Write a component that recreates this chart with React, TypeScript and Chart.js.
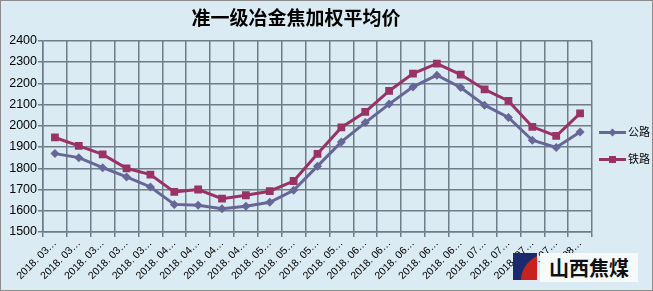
import React, { useEffect, useRef } from 'react';
import { Chart, registerables } from 'chart.js';

Chart.register(...registerables);

const categories = [
  '2018. 03…', '2018. 03…', '2018. 03…', '2018. 03…', '2018. 03…',
  '2018. 04…', '2018. 04…', '2018. 04…', '2018. 04…',
  '2018. 05…', '2018. 05…', '2018. 05…', '2018. 05…',
  '2018. 06…', '2018. 06…', '2018. 06…', '2018. 06…', '2018. 06…',
  '2018. 07…', '2018. 07…', '2018. 07…', '2018. 07…',
  '2018. 08…',
];

const roadValues = [
  1869, 1850, 1803, 1759, 1712, 1630, 1626, 1610, 1621, 1640, 1696, 1810,
  1924, 2015, 2102, 2183, 2238, 2180, 2097, 2039, 1932, 1898, 1971,
];

const railValues = [
  1945, 1905, 1865, 1800, 1770, 1689, 1700, 1657, 1673, 1692, 1740, 1868,
  1992, 2065, 2164, 2246, 2293, 2241, 2171, 2117, 1995, 1952, 2058,
];

const seriesNames = ['公路', '铁路'];
const yMin = 1500;
const yMax = 2400;
const yStep = 100;
const titleText = '准一级冶金焦加权平均价';

const BG = '#dbebf3';
const BLUE = '#666699';
const RED = '#993366';
const GRID = '#6f7d8a';
const FONT = '"Liberation Sans", "Noto Sans CJK SC", sans-serif';

const bgPlugin = {
  id: 'bgPlugin',
  beforeDraw(chart: any) {
    const { ctx, width, height } = chart;
    ctx.save();
    ctx.fillStyle = BG;
    ctx.fillRect(0, 0, width, height);
    ctx.restore();
  },
  afterDraw(chart: any) {
    const { ctx, width, height } = chart;
    ctx.save();
    ctx.strokeStyle = '#8c8c8c';
    ctx.lineWidth = 1;
    ctx.strokeRect(0.5, 0.5, width - 1, height - 1);
    const items = [
      { name: seriesNames[0], color: BLUE, style: 'diamond', y: 132.5 },
      { name: seriesNames[1], color: RED, style: 'square', y: 159.5 },
    ];
    items.forEach((it) => {
      ctx.strokeStyle = it.color;
      ctx.lineWidth = 3;
      ctx.beginPath();
      ctx.moveTo(599, it.y);
      ctx.lineTo(626, it.y);
      ctx.stroke();
      ctx.fillStyle = it.color;
      const cx = 612.5;
      if (it.style === 'diamond') {
        ctx.beginPath();
        ctx.moveTo(cx, it.y - 4);
        ctx.lineTo(cx + 4, it.y);
        ctx.lineTo(cx, it.y + 4);
        ctx.lineTo(cx - 4, it.y);
        ctx.closePath();
        ctx.fill();
      } else {
        ctx.fillRect(cx - 3.5, it.y - 3.5, 7, 7);
      }
      ctx.fillStyle = '#000';
      ctx.font = '11px ' + FONT;
      ctx.textBaseline = 'middle';
      ctx.textAlign = 'left';
      ctx.fillText(it.name, 628, it.y);
    });
    ctx.restore();
  },
};

export default function App() {
  const canvasRef = useRef<HTMLCanvasElement | null>(null);

  useEffect(() => {
    document.body.style.margin = '0';
    const canvas = canvasRef.current;
    if (!canvas) return;
    const chart = new Chart(canvas, {
      type: 'line',
      data: {
        labels: categories,
        datasets: [
          {
            label: seriesNames[0],
            data: roadValues,
            borderColor: BLUE,
            backgroundColor: BLUE,
            borderWidth: 3,
            pointStyle: 'rectRot',
            pointRadius: 4.5,
            pointHoverRadius: 4.5,
            pointBorderWidth: 0,
            tension: 0,
          },
          {
            label: seriesNames[1],
            data: railValues,
            borderColor: RED,
            backgroundColor: RED,
            borderWidth: 3,
            pointStyle: 'rect',
            pointRadius: 5.5,
            pointHoverRadius: 5.5,
            pointBorderWidth: 0,
            tension: 0,
          },
        ],
      },
      options: {
        animation: false,
        responsive: false,
        maintainAspectRatio: false,
        devicePixelRatio: 1,
        layout: { padding: { left: 0, right: 61, top: 0, bottom: 0 } },
        plugins: {
          legend: { display: false },
          tooltip: { enabled: false },
          title: {
            display: true,
            text: titleText,
            color: '#000',
            font: { family: '"Noto Sans CJK SC", sans-serif', size: 19, weight: 'bold', lineHeight: 1.2 },
            padding: { top: 6, bottom: 12 },
          },
        },
        scales: {
          x: {
            offset: true,
            grid: {
              offset: true,
              color: GRID,
              lineWidth: 1.5,
              drawTicks: true,
              tickLength: 5,
            },
            border: { color: GRID, width: 1.5 },
            ticks: {
              autoSkip: false,
              minRotation: 45,
              maxRotation: 45,
              color: '#000',
              padding: 0,
              font: { family: FONT, size: 10.5 },
            },
            afterFit(scale: any) {
              scale.height = 59;
            },
          },
          y: {
            min: yMin,
            max: yMax,
            grid: {
              color: GRID,
              lineWidth: 1.5,
              drawTicks: true,
              tickLength: 5,
            },
            border: { color: GRID, width: 1.5 },
            ticks: {
              stepSize: yStep,
              color: '#000',
              padding: 1,
              font: { family: FONT, size: 12.5 },
              callback: (v: any) => String(v),
            },
            afterFit(scale: any) {
              scale.width = 43;
            },
          },
        },
      },
      plugins: [bgPlugin],
    });
    return () => chart.destroy();
  }, []);

  return (
    <div style={{ position: 'relative', width: 653, height: 291 }}>
      <canvas ref={canvasRef} width={653} height={291} style={{ display: 'block', width: 653, height: 291 }} />
      <div style={{ position: 'absolute', left: 513, top: 253, width: 24, height: 27, background: '#1b2a6e', overflow: 'hidden' }}>
        <div style={{ position: 'absolute', left: 8, top: 0, width: 30, height: 27, background: '#c8221f', borderTopLeftRadius: '100% 100%' }} />
      </div>
      <div
        style={{
          position: 'absolute',
          left: 540,
          top: 253,
          width: 98,
          height: 29,
          background: '#f7fafb',
          color: '#111',
          fontFamily: '"Noto Sans CJK SC", sans-serif',
          fontWeight: 'bold',
          fontSize: 20,
          lineHeight: '29px',
          textAlign: 'center',
        }}
      >
        山西焦煤
      </div>
    </div>
  );
}
